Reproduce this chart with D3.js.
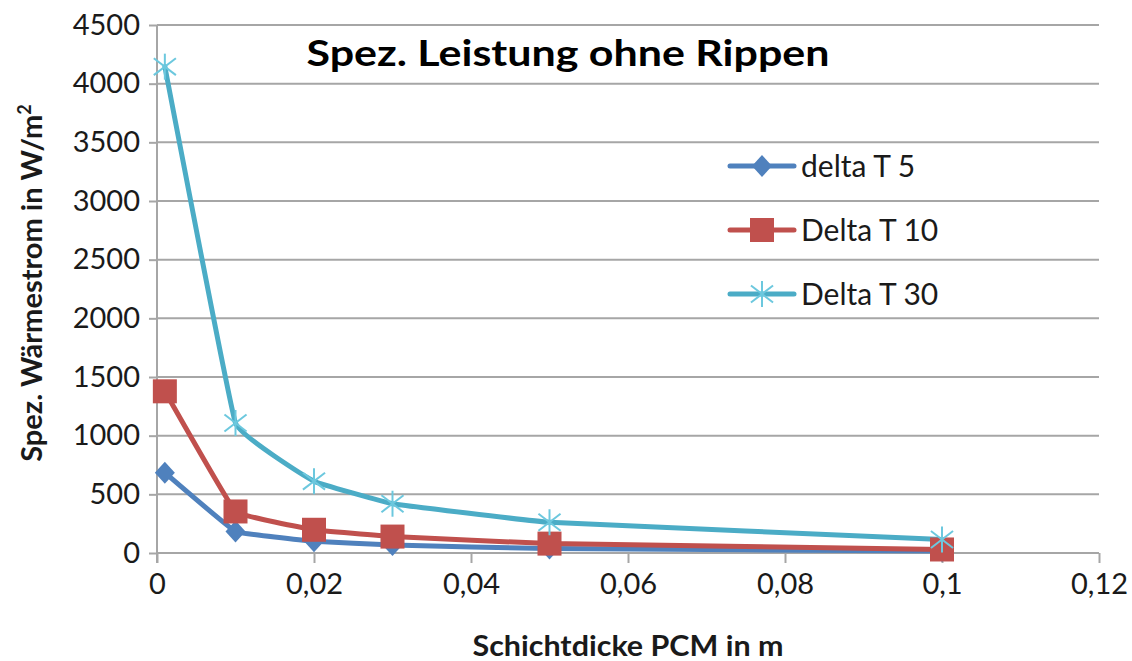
<!DOCTYPE html>
<html>
<head>
<meta charset="utf-8">
<script src="https://cdn.jsdelivr.net/npm/d3@7"></script>
<style>
  html, body { margin: 0; padding: 0; background: #fff; }
  svg { display: block; font-family: Lato, "Open Sans", sans-serif; }
</style>
</head>
<body>
<svg id="chart" width="1132" height="661"></svg>
<script>
// Layer thickness of the PCM in m
const thickness = [0.001, 0.01, 0.02, 0.03, 0.05, 0.1];
// Specific heat flow in W/m² for each temperature difference
const deltaT5  = [685, 184, 100, 68, 38, 16];
const deltaT10 = [1378, 354, 198, 140, 80, 30];
const deltaT30 = [4145, 1108, 612, 420, 262, 115];
const seriesNames = ["delta T 5", "Delta T 10", "Delta T 30"];
const xTicks = [0, 0.02, 0.04, 0.06, 0.08, 0.1, 0.12];
const yTicks = [0, 500, 1000, 1500, 2000, 2500, 3000, 3500, 4000, 4500];

const series = [
  { name: seriesNames[0], values: deltaT5,  color: "#4F81BD", marker: "diamond" },
  { name: seriesNames[1], values: deltaT10, color: "#C0504D", marker: "square" },
  { name: seriesNames[2], values: deltaT30, color: "#4BACC6", marker: "star" }
];

const svg = d3.select("#chart");
const plot = { left: 157, right: 1099, top: 25, bottom: 553 };

const x = d3.scaleLinear().domain([0, 0.12]).range([plot.left, plot.right]);
const y = d3.scaleLinear().domain([0, 4500]).range([plot.bottom, plot.top]);

const grid = "#A6A6A6";
const textColor = "#1a1a1a";
const fmt = d => d === 0 ? "0" : String(d).replace(".", ",");

// horizontal gridlines
svg.append("g").selectAll("line").data(yTicks.filter(d => d > 0)).join("line")
  .attr("x1", plot.left).attr("x2", plot.right)
  .attr("y1", d => y(d)).attr("y2", d => y(d))
  .attr("stroke", grid).attr("stroke-width", 2);

// y axis
const yAxis = svg.append("g").attr("transform", `translate(${plot.left},0)`)
  .call(d3.axisLeft(y).tickValues(yTicks).tickSize(8).tickPadding(9).tickFormat(d => d));
yAxis.select(".domain").attr("stroke", grid).attr("stroke-width", 2)
  .attr("d", `M0,${plot.top}V${plot.bottom + 10}`);
yAxis.selectAll(".tick line").attr("stroke", grid).attr("stroke-width", 2);
yAxis.selectAll(".tick text").attr("font-size", 29).attr("fill", textColor)
  .attr("font-family", "Lato, sans-serif");

// x axis
const xAxis = svg.append("g").attr("transform", `translate(0,${plot.bottom})`)
  .call(d3.axisBottom(x).tickValues(xTicks).tickSize(10).tickPadding(10).tickFormat(fmt));
xAxis.select(".domain").attr("stroke", grid).attr("stroke-width", 2)
  .attr("d", `M${plot.left},0H${plot.right}`);
xAxis.selectAll(".tick line").attr("stroke", grid).attr("stroke-width", 2);
xAxis.selectAll(".tick text").attr("font-size", 29).attr("fill", textColor)
  .attr("font-family", "Lato, sans-serif");

// series lines, lightly smoothed (high-tension cardinal spline)
const line = d3.line()
  .x((d, i) => x(thickness[i]))
  .y(d => y(d))
  .curve(d3.curveCardinal.tension(0.8));

svg.append("g").selectAll("path").data(series).join("path")
  .attr("d", s => line(s.values))
  .attr("fill", "none")
  .attr("stroke", s => s.color)
  .attr("stroke-width", 5)
  .attr("stroke-linejoin", "round")
  .attr("stroke-linecap", "round");

// marker drawing
function drawMarker(g, type, color) {
  if (type === "diamond") {
    g.append("path").attr("d", "M0,-11L10,0L0,11L-10,0Z").attr("fill", color);
  } else if (type === "square") {
    g.append("rect").attr("x", -12).attr("y", -12).attr("width", 24).attr("height", 24)
      .attr("fill", color);
  } else {
    const r = 13;
    const c = "#6CC8DE";
    [[0, -r, 0, r], [-r * 0.85, -r * 0.65, r * 0.85, r * 0.65], [-r * 0.85, r * 0.65, r * 0.85, -r * 0.65]]
      .forEach(([a, b, c2, d]) => g.append("line")
        .attr("x1", a).attr("y1", b).attr("x2", c2).attr("y2", d)
        .attr("stroke", c).attr("stroke-width", 2));
  }
}

series.forEach(s => {
  const mg = svg.append("g");
  s.values.forEach((v, i) => {
    const g = mg.append("g").attr("transform", `translate(${x(thickness[i])},${y(v)})`);
    drawMarker(g, s.marker, s.color);
  });
});

// legend
const legendY = [166, 230, 294];
series.forEach((s, i) => {
  const g = svg.append("g").attr("transform", `translate(0,${legendY[i]})`);
  g.append("line").attr("x1", 730).attr("x2", 794).attr("y1", 0).attr("y2", 0)
    .attr("stroke", s.color).attr("stroke-width", 5).attr("stroke-linecap", "round");
  const m = g.append("g").attr("transform", "translate(762,0)");
  drawMarker(m, s.marker, s.color);
  g.append("text").attr("x", 801).attr("y", 0).attr("dy", "0.35em")
    .attr("font-size", 30).attr("fill", textColor).text(s.name);
});

// title
svg.append("text").attr("x", 568).attr("y", 66).attr("text-anchor", "middle")
  .attr("font-size", 37).attr("font-weight", "bold").attr("fill", "#000")
  .attr("textLength", 523).attr("lengthAdjust", "spacingAndGlyphs")
  .text("Spez. Leistung ohne Rippen");

// axis titles
svg.append("text").attr("x", 628).attr("y", 656).attr("text-anchor", "middle")
  .attr("font-size", 28).attr("font-weight", "bold").attr("fill", textColor)
  .attr("textLength", 311).attr("lengthAdjust", "spacingAndGlyphs")
  .text("Schichtdicke PCM in m");

svg.append("text").attr("transform", "translate(42,283) rotate(-90)")
  .attr("text-anchor", "middle")
  .attr("font-size", 29).attr("font-weight", "bold").attr("fill", textColor)
  .html("Spez. Wärmestrom in W/m<tspan dy='-11' font-size='18'>2</tspan>");
</script>
</body>
</html>
